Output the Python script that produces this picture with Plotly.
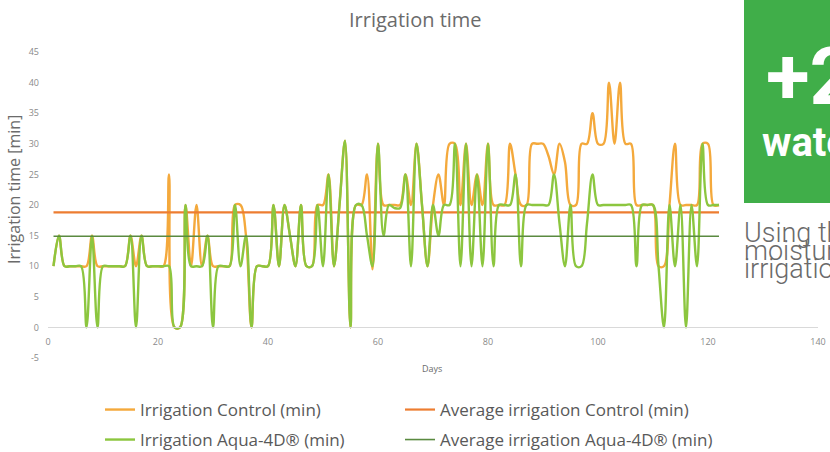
import plotly.graph_objects as go

# ---------------- data ----------------
days = list(range(1, 123))

control = [
    10, 15, 10, 10, 10, 10, 10, 15, 10, 10,
    10, 10, 10, 10, 15, 10, 15, 10, 10, 10,
    10, 25, 0, 0, 20, 10, 20, 10, 15, 10,
    10, 10, 10, 20, 20, 15, 0, 10, 10, 10,
    20, 10, 20, 15, 10, 20, 10, 10, 20, 20,
    25, 10, 20, 30.5, 0, 20, 20, 25, 9.5, 30,
    20, 20, 20, 20, 25, 20, 30, 20, 10, 20,
    25, 20, 30, 30, 20, 30, 20, 25, 20, 30,
    20, 20, 20, 30, 25, 20, 20, 30, 30, 30,
    28, 25, 30, 27, 20, 20, 30, 30, 35, 30,
    30, 40, 30, 40, 30, 30, 20, 20, 20, 20,
    10, 10, 20, 30, 20, 20, 20, 20, 30, 30,
    20, 20,
]

aqua = [
    10, 15, 10, 10, 10, 10, 0, 15, 0, 10,
    10, 10, 10, 10, 15, 0, 15, 10, 10, 10,
    10, 10, 0, 0, 20, 10, 10, 10, 15, 0,
    10, 10, 10, 20, 10, 15, 0, 10, 10, 10,
    20, 10, 20, 15, 10, 20, 10, 10, 20, 10,
    25, 10, 20, 30.5, 0, 20, 20, 15, 10, 30,
    15, 20, 19.5, 19.5, 25, 10, 30, 20, 10, 20,
    15, 20, 20, 30, 10, 30, 10, 25, 10, 30,
    10, 20, 20, 20, 25, 10, 20, 20, 20, 20,
    20, 25, 17, 10, 20, 10, 10, 17, 25, 20,
    20, 20, 20, 20, 20, 20, 10, 20, 20, 20,
    10, 0, 20, 10, 20, 0, 20, 10, 30, 20,
    20, 20,
]

avg_control = 18.8
avg_aqua = 14.9

x_ticks = [0, 20, 40, 60, 80, 100, 120, 140]
y_ticks = [-5, 0, 5, 10, 15, 20, 25, 30, 35, 40, 45]

names = [
    "Irrigation Control (min)",
    "Average irrigation Control (min)",
    "Irrigation Aqua-4D® (min)",
    "Average irrigation Aqua-4D® (min)",
]

# ---------------- layout constants ----------------
W, H = 830, 452
ML, MR, MT, MB = 48, 12, 52, 94
PW, PH = W - ML - MR, H - MT - MB


def px2x(px):
    return (px - ML) / PW


def py2y(py):
    return (H - MB - py) / PH


fig = go.Figure()

fig.add_trace(go.Scatter(
    x=days, y=control, mode="lines", name=names[0], legend="legend",
    line=dict(color="#F4A93C", width=2.4, shape="spline", smoothing=1.0),
))
fig.add_trace(go.Scatter(
    x=[days[0], days[-1]], y=[avg_control, avg_control], mode="lines", name=names[1],
    legend="legend2",
    line=dict(color="#ED7D31", width=2.2),
))
fig.add_trace(go.Scatter(
    x=days, y=aqua, mode="lines", name=names[2], legend="legend3",
    line=dict(color="#8CC63F", width=2.4, shape="spline", smoothing=1.0),
))
fig.add_trace(go.Scatter(
    x=[days[0], days[-1]], y=[avg_aqua, avg_aqua], mode="lines", name=names[3],
    legend="legend4",
    line=dict(color="#5A8A40", width=1.6),
))

tick_font = dict(family="Open Sans", size=9, color="#8a8a8a")
legend_font = dict(family="Open Sans", size=17, color="#595959")

legend_common = dict(
    orientation="h", xanchor="left", yanchor="middle", itemwidth=30,
    font=legend_font, bgcolor="rgba(0,0,0,0)",
)

fig.update_layout(
    width=W, height=H,
    margin=dict(l=ML, r=MR, t=MT, b=MB, autoexpand=False),
    paper_bgcolor="white", plot_bgcolor="white",
    showlegend=True,
    legend=dict(x=px2x(100), y=py2y(410), **legend_common),
    legend2=dict(x=px2x(400), y=py2y(410), **legend_common),
    legend3=dict(x=px2x(100), y=py2y(440), **legend_common),
    legend4=dict(x=px2x(400), y=py2y(440), **legend_common),
    xaxis=dict(
        range=[0, 140], tickvals=x_ticks, ticktext=[str(v) for v in x_ticks],
        anchor="free", position=py2y(327),
        showgrid=False, zeroline=False,
        showline=True, linecolor="#d9d9d9", linewidth=1,
        ticks="", tickfont=tick_font, ticklabelstandoff=6,
    ),
    yaxis=dict(
        range=[-5, 45], tickvals=y_ticks, ticktext=[str(v) for v in y_ticks],
        showgrid=False, zeroline=False, showline=False,
        ticks="", tickfont=tick_font, ticklabelstandoff=8,
    ),
    font=dict(family="Open Sans"),
)

annotations = [
    dict(text="Irrigation time", x=px2x(415), y=py2y(20), xref="paper", yref="paper",
         showarrow=False, xanchor="center", yanchor="middle",
         font=dict(family="Open Sans", size=20, color="#6b6b6b")),
    dict(text="Days", x=px2x(432), y=py2y(368), xref="paper", yref="paper",
         showarrow=False, xanchor="center", yanchor="middle",
         font=dict(family="Open Sans", size=9, color="#6b6b6b")),
    dict(text="Irrigation time [min]", x=px2x(14), y=py2y(190), xref="paper", yref="paper",
         showarrow=False, xanchor="center", yanchor="middle", textangle=-90,
         font=dict(family="Open Sans", size=16, color="#6b6b6b")),
    # overlapping page elements on the right
    dict(text="<b>+25%</b>", x=px2x(764), y=py2y(126), xref="paper", yref="paper",
         showarrow=False, xanchor="left", yanchor="bottom",
         font=dict(family="Roboto", size=80, color="white")),
    dict(text="<b>water</b>", x=px2x(760), y=py2y(168), xref="paper", yref="paper",
         showarrow=False, xanchor="left", yanchor="bottom",
         font=dict(family="Roboto", size=40, color="white")),
    dict(text="Using the", x=px2x(742), y=py2y(233), xref="paper", yref="paper",
         showarrow=False, xanchor="left", yanchor="middle",
         font=dict(family="Roboto", size=27, color="#6a6a6a", weight=300)),
    dict(text="moisture", x=px2x(742), y=py2y(251), xref="paper", yref="paper",
         showarrow=False, xanchor="left", yanchor="middle",
         font=dict(family="Roboto", size=27, color="#6a6a6a", weight=300)),
    dict(text="irrigation", x=px2x(742), y=py2y(269), xref="paper", yref="paper",
         showarrow=False, xanchor="left", yanchor="middle",
         font=dict(family="Roboto", size=27, color="#6a6a6a", weight=300)),
]
fig.update_layout(annotations=annotations)

fig.add_shape(type="rect", xref="paper", yref="paper",
              x0=px2x(744), x1=px2x(900), y0=py2y(203), y1=py2y(-10),
              fillcolor="#40AE49", line=dict(width=0), layer="above")

fig.write_html("out.html", config={"displayModeBar": False},
               post_script="document.body.style.margin='0px';")
